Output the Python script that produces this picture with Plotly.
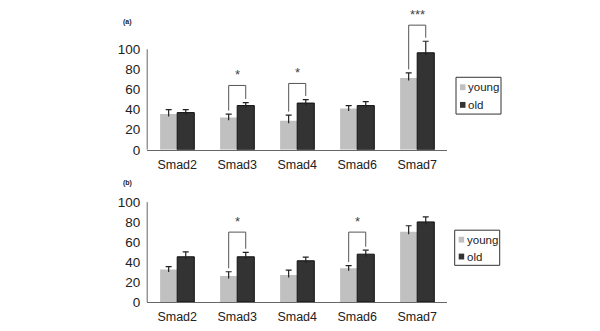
import plotly.graph_objects as go
from plotly.subplots import make_subplots

categories = ["Smad2", "Smad3", "Smad4", "Smad6", "Smad7"]

young_a = [35.5, 32, 29, 41, 71.5]
young_a_err = [4.5, 3.5, 5.5, 3, 5]
old_a = [37, 44, 46.5, 44, 96.5]
old_a_err = [3, 3, 3.5, 4, 11.5]

young_b = [32.5, 26, 27, 33.8, 70.4]
young_b_err = [3, 4.3, 5, 2.7, 6]
old_b = [45.3, 45.3, 41.3, 47.9, 80.2]
old_b_err = [5, 4.5, 3.7, 4, 5]

# significance brackets: (category index, label, bracket height) per panel
sig_a = [(1, "*", 64), (2, "*", 66), (4, "***", 124)]
sig_b = [(1, "*", 70), (3, "*", 70)]

yticks = [0, 20, 40, 60, 80, 100]

YOUNG = "#c0c0c0"
OLD = "#333333"
FONT = "Liberation Sans, Arial, sans-serif"

fig = make_subplots(rows=2, cols=1)

panels = [
    (1, young_a, young_a_err, old_a, old_a_err, sig_a),
    (2, young_b, young_b_err, old_b, old_b_err, sig_b),
]

OFF = 0.142  # half group offset for the two bars
CAP = 0.05   # half cap width in category units

for row, y, ye, o, oe, sig in panels:
    xref = "x" if row == 1 else "x2"
    yref = "y" if row == 1 else "y2"
    for vals, errs, col, line, sgn in [(y, ye, YOUNG, dict(width=0), -1),
                                        (o, oe, OLD, dict(width=1, color="#111111"), 1)]:
        fig.add_trace(go.Bar(
            x=categories, y=vals, name="young" if sgn < 0 else "old",
            marker=dict(color=col, line=line),
            error_y=dict(type="data", array=errs, arrayminus=[2.5] * len(errs), symmetric=False,
                         color="#222222", thickness=1.2, width=0),
            cliponaxis=False,
        ), row=row, col=1)
        for i, (v, e) in enumerate(zip(vals, errs)):
            cx = i + sgn * OFF
            fig.add_shape(type="line", x0=cx - CAP, x1=cx + CAP, y0=v + e, y1=v + e,
                          xref=xref, yref=yref, line=dict(color="#222222", width=1.2))

    for idx, txt, h in sig:
        xl = idx - OFF
        xr = idx + OFF
        yl = y[idx] + ye[idx] + 3.5
        yrr = o[idx] + oe[idx] + 3.5
        fig.add_shape(type="path",
                      path=f"M {xl} {yl} L {xl} {h} L {xr} {h} L {xr} {yrr}",
                      xref=xref, yref=yref, line=dict(color="#555555", width=1))
        fig.add_annotation(x=idx, y=h + 11, xref=xref, yref=yref, text=txt,
                           showarrow=False, font=dict(size=13, color="#444444", family=FONT),
                           yanchor="middle")
    # y axis line from 0 to 100 only
    fig.add_shape(type="line", x0=0, x1=0, y0=0, y1=100,
                  xref=f"{xref} domain", yref=yref, line=dict(color="#666666", width=1))

fig.update_layout(
    barmode="group", bargap=0.43, bargroupgap=0,
    width=600, height=331, margin=dict(l=0, r=0, t=0, b=0),
    paper_bgcolor="white", plot_bgcolor="white",
    font=dict(family=FONT, size=12, color="#222222"),
    showlegend=False,
)

fig.update_xaxes(showline=True, linecolor="#666666", linewidth=1, ticks="",
                 ticklabelstandoff=3,
                 tickfont=dict(size=12.5, family=FONT, color="#222222"), showgrid=False,
                 domain=[0.232, 0.732])
fig.update_yaxes(tickvals=yticks, showline=False, showgrid=False, zeroline=False, ticks="",
                 ticklabelstandoff=6,
                 tickfont=dict(size=13.5, family=FONT, color="#222222"))
fig.update_yaxes(range=[0, 140], domain=[1 - 145.3 / 331, 1 - 1.1 / 331], row=1, col=1)
fig.update_yaxes(range=[0, 120], domain=[1 - 301.3 / 331, 1 - 178.5 / 331], row=2, col=1)

# legends drawn as boxes with markers (one per panel)
for (x0, x1, y0, y1) in [(448, 493, 71, 108.7), (446.7, 491.7, 227.7, 263.7)]:
    fig.add_shape(type="rect", xref="paper", yref="paper",
                  x0=x0 / 600, x1=x1 / 600, y0=1 - y1 / 331, y1=1 - y0 / 331,
                  line=dict(color="#333333", width=1), fillcolor="white")
    ym1 = y0 + (y1 - y0) * 0.27
    ym2 = y0 + (y1 - y0) * 0.75
    for ym, col, name in [(ym1, YOUNG, "young"), (ym2, OLD, "old")]:
        fig.add_shape(type="rect", xref="paper", yref="paper",
                      x0=(x0 + 4) / 600, x1=(x0 + 9.5) / 600,
                      y0=1 - (ym + 3) / 331, y1=1 - (ym - 3) / 331,
                      fillcolor=col, line=dict(width=0))
        fig.add_annotation(xref="paper", yref="paper", x=(x0 + 10) / 600, y=1 - ym / 331,
                           text=name, showarrow=False, xanchor="left", yanchor="middle",
                           font=dict(size=11.5, family=FONT, color="#222222"))

for lab, px, py in [("(a)", 113, 14), ("(b)", 113, 179)]:
    fig.add_annotation(xref="paper", yref="paper", x=px / 600, y=1 - py / 331, text=f"<b>{lab}</b>",
                       showarrow=False, xanchor="left", yanchor="middle",
                       font=dict(size=7, family=FONT, color="#222222"))

fig.write_html("out.html")
